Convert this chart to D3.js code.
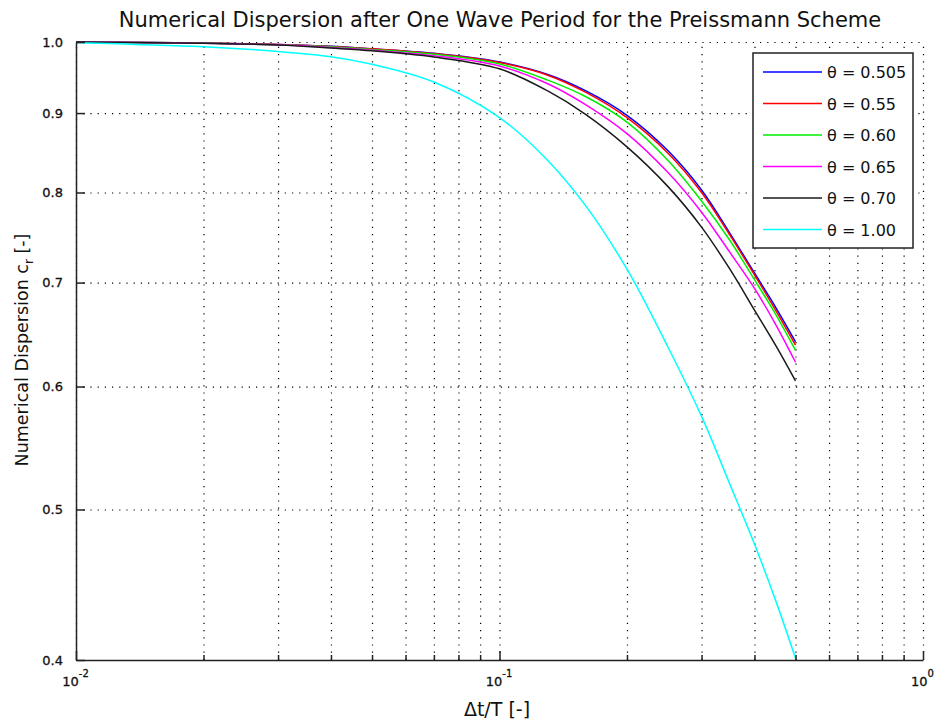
<!DOCTYPE html>
<html>
<head>
<meta charset="utf-8">
<script src="https://cdn.jsdelivr.net/npm/d3@7"></script>
<style>
  body { margin: 0; background: #fff; }
  svg { display: block; font-family: "DejaVu Sans", sans-serif; }
</style>
</head>
<body>
<div id="app"></div>
<script>
// values
const dtT = [0.01, 0.02, 0.03, 0.04, 0.05, 0.07, 0.1, 0.13, 0.16, 0.2, 0.25, 0.3, 0.35, 0.4, 0.45, 0.5]

const theta0505 = [1.000, 0.9985, 0.9963, 0.9937, 0.990, 0.9834, 0.9708, 0.953, 0.930, 0.897, 0.851, 0.803, 0.753, 0.710, 0.674, 0.641]
const theta055  = [1.000, 0.9985, 0.9962, 0.9935, 0.990, 0.983, 0.970, 0.952, 0.928, 0.894, 0.848, 0.800, 0.751, 0.708, 0.671, 0.638]
const theta060  = [1.000, 0.9984, 0.996, 0.993, 0.989, 0.982, 0.968, 0.945, 0.922, 0.888, 0.839, 0.790, 0.745, 0.703, 0.667, 0.633]
const theta065  = [1.000, 0.9983, 0.9958, 0.992, 0.988, 0.980, 0.965, 0.940, 0.911, 0.873, 0.824, 0.777, 0.732, 0.694, 0.657, 0.622]
const theta070  = [1.000, 0.998, 0.9955, 0.991, 0.987, 0.978, 0.961, 0.930, 0.898, 0.856, 0.807, 0.760, 0.714, 0.672, 0.637, 0.605]
const theta100  = [0.999, 0.993, 0.986, 0.9785, 0.9675, 0.9424, 0.894, 0.839, 0.784, 0.714, 0.636, 0.574, 0.519, 0.475, 0.436, 0.401]

const seriesNames = ['0.505', '0.55', '0.60', '0.65', '0.70', '1.00']
const seriesValues = [theta0505, theta055, theta060, theta065, theta070, theta100]
const seriesColors = ['#0000ff', '#ff0000', '#00ee00', '#ff00ff', '#1a1a1a', '#00ffff']

const xMajor = [0.01, 0.1, 1]
const xMinor = [0.02, 0.03, 0.04, 0.05, 0.06, 0.07, 0.08, 0.09, 0.2, 0.3, 0.4, 0.5, 0.6, 0.7, 0.8, 0.9]
const yTicks = [0.4, 0.5, 0.6, 0.7, 0.8, 0.9, 1.0]

const width = 935, height = 724
const plotL = 76, plotR = 923, plotT = 42, plotB = 660

const svg = d3.select('#app').append('svg')
    .attr('width', width)
    .attr('height', height)

const x = d3.scaleLog().domain([0.01, 1]).range([plotL, plotR])
const y = d3.scaleLog().domain([0.4, 1.0]).range([plotB, plotT])

// dotted grid
const gridX = svg.append('g')
    .attr('class', 'grid')
    .attr('transform', 'translate(0,' + plotB + ')')
    .call(d3.axisBottom(x).tickValues(xMajor.concat(xMinor)).tickSize(-(plotB - plotT)).tickFormat(''))
gridX.select('.domain').remove()

const gridY = svg.append('g')
    .attr('class', 'grid')
    .attr('transform', 'translate(' + plotL + ',0)')
    .call(d3.axisLeft(y).tickValues(yTicks).tickSize(-(plotR - plotL)).tickFormat(''))
gridY.select('.domain').remove()

svg.selectAll('.grid line')
    .attr('stroke', '#000')
    .attr('stroke-dasharray', '1.2,6')
    .attr('stroke-width', 1.2)

// curves
const line = d3.line()
    .x((d, i) => x(dtT[i]))
    .y(d => y(d))
    .curve(d3.curveCatmullRom.alpha(0.5))

svg.append('g')
    .selectAll('path')
    .data(seriesValues)
    .enter()
    .append('path')
    .attr('d', d => line(d))
    .attr('fill', 'none')
    .attr('stroke', (d, i) => seriesColors[i])
    .attr('stroke-width', 1.5)

// axes (ticks point inward)
const xMinorAxis = svg.append('g')
    .attr('class', 'axis')
    .attr('transform', 'translate(0,' + plotB + ')')
    .call(d3.axisBottom(x).tickValues(xMinor).tickSize(-5).tickFormat(''))
xMinorAxis.select('.domain').remove()

const xAxis = svg.append('g')
    .attr('class', 'axis')
    .attr('transform', 'translate(0,' + plotB + ')')
    .call(d3.axisBottom(x).tickValues(xMajor).tickSize(-9).tickSizeOuter(0).tickPadding(17).tickFormat(''))

xAxis.selectAll('.tick text').each(function(d) {
    const t = d3.select(this)
    t.attr('dx', '-1px').attr('text-anchor', 'middle')
    t.append('tspan').text('10')
    t.append('tspan').attr('dy', '-9').attr('font-size', 10).text(Math.round(Math.log10(d)))
})

const yAxis = svg.append('g')
    .attr('class', 'axis')
    .attr('transform', 'translate(' + plotL + ',0)')
    .call(d3.axisLeft(y).tickValues(yTicks).tickSize(-9).tickSizeOuter(0).tickPadding(13).tickFormat(d3.format('.1f')))

svg.selectAll('.axis .domain').attr('stroke', '#222').attr('stroke-width', 1.5)
svg.selectAll('.axis .tick line').attr('stroke', '#222').attr('stroke-width', 1.5)
svg.selectAll('.axis .tick text')
    .attr('font-size', 13)
    .attr('fill', '#111')
    .attr('stroke', '#111')
    .attr('stroke-width', 0.3)
    .attr('font-family', '"DejaVu Sans", sans-serif')

// titles
svg.append('text')
    .attr('x', 500).attr('y', 27)
    .attr('text-anchor', 'middle')
    .attr('font-size', 21)
    .attr('fill', '#111')
    .text('Numerical Dispersion after One Wave Period for the Preissmann Scheme')

svg.append('text')
    .attr('x', 497).attr('y', 716)
    .attr('text-anchor', 'middle')
    .attr('font-size', 19)
    .attr('fill', '#111')
    .text('Δt/T [-]')

const yLab = svg.append('text')
    .attr('transform', 'translate(28,' + 350 + ') rotate(-90)')
    .attr('text-anchor', 'middle')
    .attr('font-size', 17.5)
    .attr('fill', '#111')
yLab.append('tspan').text('Numerical Dispersion c')
yLab.append('tspan').attr('font-size', 12).attr('dy', 5).text('r')
yLab.append('tspan').attr('dy', -5).text(' [-]')

// legend
const legend = svg.append('g')
legend.append('rect')
    .attr('x', 753).attr('y', 53).attr('width', 160).attr('height', 195)
    .attr('fill', '#fff').attr('stroke', '#222').attr('stroke-width', 1.5)

const rows = legend.selectAll('g')
    .data(seriesNames)
    .enter()
    .append('g')
    .attr('transform', (d, i) => 'translate(0,' + (72 + i * 31.5) + ')')

rows.append('line')
    .attr('x1', 763).attr('x2', 822)
    .attr('stroke', (d, i) => seriesColors[i])
    .attr('stroke-width', 1.5)

rows.append('text')
    .attr('x', 827).attr('y', 6)
    .attr('font-size', 16)
    .attr('fill', '#111')
    .text(d => 'θ = ' + d)
</script>
</body>
</html>
